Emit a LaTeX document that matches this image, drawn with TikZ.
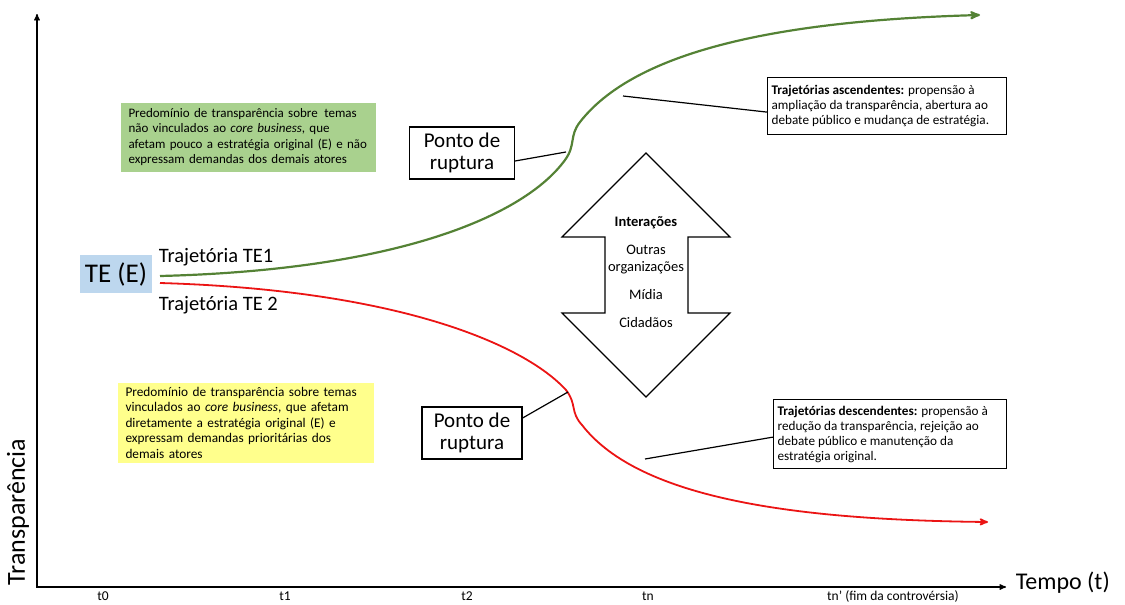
\documentclass[tikz,border=0pt]{standalone}
\usepackage{fontspec}
\setmainfont{Carlito}
\usetikzlibrary{%
  arrows,% wg. stealth'
  positioning,%
  calc%
}
\definecolor{trajgreen}{RGB}{84,130,53}
\definecolor{trajred}{RGB}{235,20,20}
\definecolor{boxgreen}{RGB}{169,209,142}
\definecolor{boxyellow}{RGB}{255,255,140}
\definecolor{boxblue}{RGB}{189,215,238}

\begin{document}
\begin{tikzpicture}[
  x=1pt, y=-1pt,
  >=stealth',
  line width=1pt,
  notebox/.style={inner xsep=8pt, inner ysep=3pt, align=left, anchor=north west},
  rupbox/.style={draw, line width=1.2pt, align=center, minimum height=52pt,
    font=\fontsize{21}{22}\selectfont},
  trajbox/.style={draw, line width=1.2pt, align=flush left, anchor=north west,
    inner xsep=4pt, font=\fontsize{13.2}{15}\selectfont},
  ticklabel/.style={font=\fontsize{13.5}{15}\selectfont},
]
\useasboundingbox (0,0) rectangle (1125,605);

% axes
\coordinate (orig) at (37,587);
\coordinate (ytop) at (37,14);
\coordinate (xend) at (1006,587);
\draw [<->, line width=1.3pt] (ytop) -- (orig) -- (xend);
\node [right=6pt of xend, font=\fontsize{24}{28}\selectfont, yshift=4pt] (tempo) {Tempo (t)};
\node [rotate=90, font=\fontsize{26}{30}\selectfont] (transp) at (18,512) {Transparência};
\foreach \x/\t in {103/t0, 285/t1, 467/t2, 648/tn, 893/{tn’ (fim da controvérsia)}} {
  \node [ticklabel, inner sep=1pt] (tick-\x) at (\x,596) {\t};
}

% notes
\node [notebox, fill=boxgreen, text width=239pt, minimum height=69pt,
  font=\fontsize{13}{15.5}\selectfont] (greennote) at (120,102)
  {Predomínio de transparência sobre\, temas\\
   não vinculados ao \textit{core business}, que\\
   afetam pouco a estratégia original (E) e não\\
   expressam demandas dos demais atores};
\node [notebox, fill=boxyellow, text width=240pt, minimum height=80pt,
  font=\fontsize{13.3}{15.5}\selectfont] (yellownote) at (117,382)
  {Predomínio de transparência sobre temas\\
   vinculados ao \textit{core business}, que afetam\\
   diretamente a estratégia original (E) e\\
   expressam demandas prioritárias dos\\
   demais atores};

% starting point
\node [fill=boxblue, minimum width=72pt, minimum height=38pt, font=\fontsize{27}{30}\selectfont] (te) at (116,274) {TE (E)};
\node [anchor=west, font=\fontsize{20.5}{24}\selectfont] (te1) at (155,257) {Trajetória TE1};
\node [anchor=west, font=\fontsize{20.5}{24}\selectfont] (te2) at (155,305) {Trajetória TE 2};

% trajectories
\draw [->, trajgreen, line width=2.2pt] (160,276)
  .. controls (400,270) and (525,215) .. (565,160)
  .. controls (576,145) and (569,136) .. (580,122)
  .. controls (640,45) and (800,20) .. (980,15);
\draw [->, trajred, line width=1.8pt] (160,283)
  .. controls (400,290) and (525,345) .. (566,390)
  .. controls (577,404) and (570,412) .. (582,425)
  .. controls (640,500) and (800,520) .. (988,522);

% break points
\coordinate (kinkup) at (566,152);
\coordinate (kinkdown) at (568,392);
\node [rupbox, minimum width=105pt] (rupup) at (462,153) {Ponto de\\ruptura};
\node [rupbox, minimum width=100pt] (rupdown) at (472,433) {Ponto de\\ruptura};
\draw [line width=1.2pt] ([yshift=-8pt]rupup.east) -- (kinkup);
\draw [line width=1.2pt] ([yshift=15pt]rupdown.east) -- (kinkdown);

% interactions
\draw [line width=1.2pt] (646,153) -- (730,237) -- (688,237) -- (688,313) -- (730,313)
  -- (646,397) -- (562,313) -- (605,313) -- (605,237) -- (562,237) -- cycle;
\node [align=center, font=\fontsize{14.5}{17}\selectfont] (inter) at (646,272)
  {\textbf{Interações}\\[11pt]Outras\\organizações\\[11pt]Mídia\\[11pt]Cidadãos};

% trajectory descriptions
\node [trajbox, text width=231pt, minimum height=57pt] (ascbox) at (767,77)
  {\textbf{Trajetórias ascendentes:} propensão à\\
   ampliação da transparência, abertura ao\\
   debate público e mudança de estratégia.};
\node [trajbox, text width=225pt, minimum height=69pt] (descbox) at (773,399)
  {\textbf{Trajetórias descendentes:} propensão à\\
   redução da transparência, rejeição ao\\
   debate público e manutenção da\\
   estratégia original.};
\coordinate (ascpt) at (623,96);
\coordinate (descpt) at (645,459);
\draw [line width=1.2pt] (ascpt) -- ([yshift=-6pt]ascbox.west);
\draw [line width=1.2pt] (descpt) -- ([yshift=-3pt]descbox.west);

\end{tikzpicture}
\end{document}
